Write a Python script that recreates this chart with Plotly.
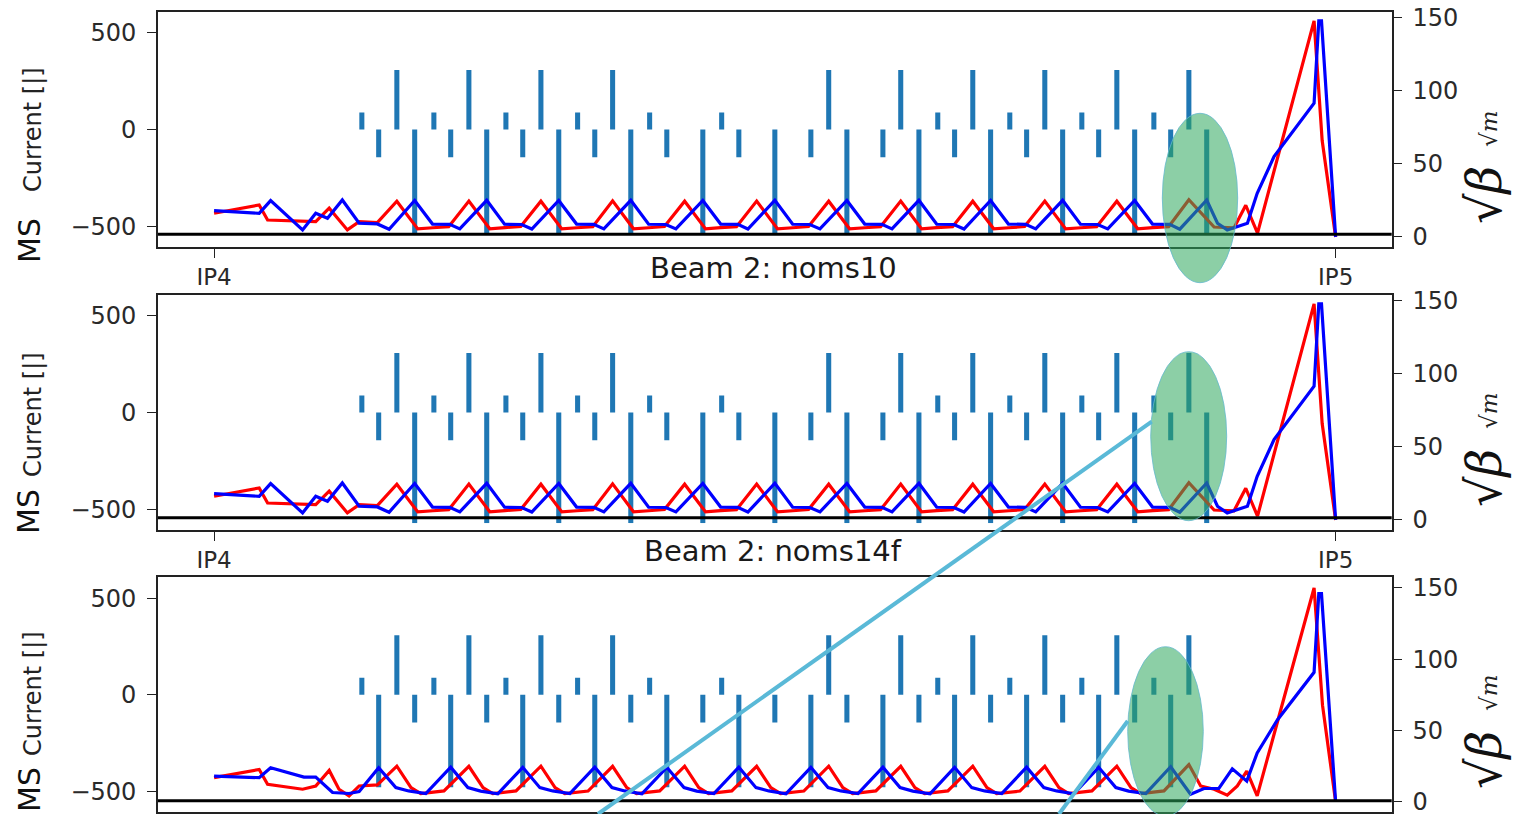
import plotly.graph_objects as go

W, H = 1513, 814

# ---------------- data (s in metres from IP4) ----------------
ip_s = [0, 3332]
ip_labels = ["IP4", "IP5"]

# MS (sextupole) bar positions
ms_small_up_s = [439, 653, 867, 1080, 1294, 1508, 2150, 2364, 2578, 2792]
ms_small_up_i = [88, 88, 88, 88, 88, 88, 88, 88, 88, 88]
ms_tall_up_s = [543, 757, 971, 1184, 1826, 2040, 2254, 2468, 2682, 2896]
ms_tall_up_i = [308, 308, 308, 308, 308, 308, 308, 308, 308, 308]
ms_a_s = [489, 703, 917, 1131, 1345, 1559, 1773, 1987, 2200, 2414, 2628, 2842]
ms_b_s = [596, 810, 1024, 1238, 1452, 1666, 1880, 2094, 2307, 2521, 2735, 2949]

# panel 1 (top) and panel 2 (noms10): small negative at a, long negative at b
p1_a_i = [-143, -143, -143, -143, -143, -143, -143, -143, -143, -143, -143, -143]
p1_b_i = [-535, -535, -535, -535, -535, -535, -535, -535, -535, -535, -535, -535]
p2_a_i = [-143, -143, -143, -143, -143, -143, -143, -143, -143, -143, -143, -143]
p2_b_i = [-572, -572, -572, -572, -572, -572, -572, -572, -572, -572, -572, -572]
# panel 3 (noms14f): long negative at a, small negative at b
p3_a_i = [-478, -478, -478, -478, -478, -478, -478, -478, -478, -478, -478, -478]
p3_b_s = [596, 810, 1024, 1238, 1452, 1666, 1880, 2094, 2307, 2521, 2735]
p3_b_i = [-143, -143, -143, -143, -143, -143, -143, -143, -143, -143, -143]

# sqrt(beta) lines, panels 1 & 2
red12_s = [0, 134, 159, 302, 342, 396, 431, 485,
           543, 605, 650, 697, 757, 819, 864, 911, 971, 1033, 1078, 1125,
           1184, 1246, 1291, 1338, 1398, 1460, 1505, 1552, 1612, 1674, 1719, 1766,
           1826, 1888, 1933, 1980, 2040, 2102, 2147, 2194, 2254, 2316, 2361, 2408,
           2468, 2530, 2575, 2622, 2682, 2744, 2789, 2836,
           2896, 2971, 3030, 3065, 3100, 3268, 3292, 3332]
red12_b = [16.2, 21.9, 11.6, 10.5, 19.7, 4.8, 10.5, 9.8,
           24.5, 5.5, 6.3, 7.0, 24.6, 5.6, 6.4, 7.1, 24.5, 5.5, 6.3, 7.0,
           24.7, 5.6, 6.3, 7.1, 24.5, 5.5, 6.4, 7.0, 24.6, 5.5, 6.3, 7.1,
           24.5, 5.6, 6.3, 7.0, 24.6, 5.5, 6.4, 7.0, 24.5, 5.6, 6.3, 7.1,
           24.6, 5.5, 6.3, 7.0, 24.5, 5.6, 6.4, 7.0,
           25.5, 6.8, 6.2, 21.7, 2.6, 148.0, 66.0, 0.0]
blue12_s = [0, 134, 168, 263, 302, 337, 381, 431, 485, 520,
            596, 649, 700, 730, 810, 863, 914, 944, 1024, 1077, 1128, 1158,
            1238, 1291, 1342, 1372, 1452, 1505, 1556, 1586, 1666, 1719, 1770, 1800,
            1880, 1933, 1984, 2014, 2094, 2147, 2198, 2228, 2307, 2360, 2411, 2441,
            2521, 2574, 2625, 2655, 2735, 2788, 2839, 2869,
            2949, 2981, 3010, 3070, 3099, 3149, 3268, 3282, 3290, 3332]
blue12_b = [18.0, 16.2, 24.9, 4.8, 16.2, 12.8, 25.3, 9.4, 8.9, 5.3,
            25.0, 8.8, 8.6, 5.5, 25.1, 8.7, 8.5, 5.4, 25.0, 8.8, 8.6, 5.5,
            25.1, 8.7, 8.5, 5.5, 25.0, 8.8, 8.6, 5.4, 25.1, 8.7, 8.5, 5.5,
            25.0, 8.8, 8.6, 5.5, 25.1, 8.7, 8.5, 5.4, 25.0, 8.8, 8.6, 5.5,
            25.1, 8.7, 8.5, 5.5, 25.0, 8.8, 8.6, 5.3,
            25.3, 9.4, 4.8, 9.4, 29.9, 55.0, 91.6, 148.0, 148.0, 0.0]

# sqrt(beta) lines, panel 3
red3_s = [0, 134, 159, 263, 302, 342, 371, 401, 431, 485,
          543, 585, 614, 683, 757, 799, 828, 897, 971, 1013, 1042, 1111,
          1184, 1226, 1255, 1324, 1398, 1440, 1469, 1538, 1612, 1654, 1683, 1752,
          1826, 1868, 1897, 1966, 2040, 2082, 2111, 2180, 2254, 2296, 2325, 2394,
          2468, 2510, 2539, 2608, 2682, 2724, 2753, 2822,
          2896, 2931, 2971, 3010, 3040, 3068, 3099, 3268, 3293, 3332]
red3_b = [16.8, 22.6, 12.2, 8.7, 11.0, 21.9, 8.7, 4.0, 11.0, 11.7,
          24.9, 9.9, 5.6, 7.5, 24.8, 9.8, 5.7, 7.5, 24.9, 9.9, 5.6, 7.4,
          24.8, 9.9, 5.7, 7.5, 24.9, 9.8, 5.6, 7.5, 24.8, 9.9, 5.6, 7.4,
          24.9, 9.9, 5.7, 7.5, 24.8, 9.8, 5.6, 7.5, 24.9, 9.9, 5.6, 7.4,
          24.8, 9.9, 5.7, 7.5, 24.9, 9.8, 5.6, 7.5,
          26.0, 11.0, 8.7, 4.5, 11.0, 21.4, 4.0, 150.0, 67.7, 0.0]
blue3_s = [0, 134, 168, 267, 302, 352, 401, 431,
           489, 540, 578, 629, 703, 754, 792, 843, 917, 968, 1006, 1057,
           1131, 1182, 1220, 1271, 1345, 1396, 1434, 1485, 1559, 1610, 1648, 1699,
           1773, 1824, 1862, 1913, 1987, 2038, 2076, 2127, 2200, 2251, 2289, 2340,
           2414, 2465, 2503, 2554, 2628, 2679, 2717, 2768,
           2842, 2901, 2941, 2985, 3025, 3068, 3099, 3159, 3268, 3282, 3290, 3332]
blue3_b = [17.9, 16.8, 23.8, 17.2, 17.2, 6.4, 5.7, 7.1,
           23.8, 9.9, 7.5, 5.6, 24.2, 9.9, 7.4, 5.5, 24.1, 9.8, 7.5, 5.6,
           24.2, 9.9, 7.5, 5.5, 24.1, 9.9, 7.4, 5.6, 24.2, 9.8, 7.5, 5.5,
           24.1, 9.9, 7.5, 5.6, 24.2, 9.9, 7.4, 5.5, 24.1, 9.8, 7.5, 5.6,
           24.2, 9.9, 7.5, 5.5, 24.1, 9.9, 7.4, 5.6,
           24.5, 5.2, 9.2, 9.2, 23.0, 14.4, 34.2, 57.3, 90.8, 146.0, 146.0, 0.0]

titles = ["Beam 2: noms10", "Beam 2: noms14f"]

# ---------------- layout helpers ----------------
def px(x):
    return x / W

def py(y):
    return 1 - y / H

panel_tops = [12, 295, 577.3]
panel_h = 235
x_left, x_right = 158, 1391.7
ms_label_y = [240, 511, 789]
cur_label_y = [130, 415, 694]
sqb_label_y = [195, 478, 760]
sqm_label_y = [129, 411, 693]

BAR_C = "#1f77b4"
FONT = "DejaVu Sans"
TXT = "#1a1a1a"

fig = go.Figure()

panels = [
    dict(bx=ms_small_up_s + ms_tall_up_s + ms_a_s + ms_b_s,
         by=ms_small_up_i + ms_tall_up_i + p1_a_i + p1_b_i,
         rs=red12_s, rb=red12_b, bs=blue12_s, bb=blue12_b, r2=[-6.9, 154.1], hl=1.8),
    dict(bx=ms_small_up_s + ms_tall_up_s + ms_a_s + ms_b_s,
         by=ms_small_up_i + ms_tall_up_i + p2_a_i + p2_b_i,
         rs=red12_s, rb=red12_b, bs=blue12_s, bb=blue12_b, r2=[-6.9, 154.1], hl=1.5),
    dict(bx=ms_small_up_s + ms_tall_up_s + ms_a_s + p3_b_s,
         by=ms_small_up_i + ms_tall_up_i + p3_a_i + p3_b_i,
         rs=red3_s, rb=red3_b, bs=blue3_s, bb=blue3_b, r2=[-7.5, 157.5], hl=0.6),
]

layout = dict(
    template="none",
    width=W, height=H, autosize=False,
    margin=dict(l=0, r=0, t=0, b=0, pad=0),
    paper_bgcolor="white", plot_bgcolor="white",
    showlegend=False, barmode="overlay",
    font=dict(family=FONT, color=TXT),
)

shapes = []
annotations = []
axis_common = dict(showgrid=False, zeroline=False, showline=True, linecolor="#222",
                   linewidth=1.6, ticks="outside", ticklen=9, tickwidth=1.4, automargin=False,
                   tickcolor="#222", tickfont=dict(family=FONT, size=24, color="#2a2a2a"))


def note(text, x, y, size, color="#1a1a1a", family=FONT, angle=0):
    return dict(text=text, x=px(x), y=py(y), xref="paper", yref="paper", showarrow=False,
                xanchor="center", yanchor="middle", textangle=angle,
                font=dict(size=size, color=color, family=family))


for i, p in enumerate(panels):
    top = panel_tops[i]
    bot = top + panel_h
    xa = "x" if i == 0 else f"x{i+1}"
    yl = 2 * i + 1
    yr = 2 * i + 2
    yl_name = "y" if yl == 1 else f"y{yl}"
    yr_name = f"y{yr}"

    fig.add_trace(go.Bar(x=p["bx"], y=p["by"], width=15, marker=dict(color=BAR_C, line=dict(width=0)),
                         xaxis=xa, yaxis=yl_name))
    fig.add_trace(go.Scatter(x=p["rs"], y=p["rb"], mode="lines", line=dict(color="#ff0000", width=3.2),
                             xaxis=xa, yaxis=yr_name))
    fig.add_trace(go.Scatter(x=p["bs"], y=p["bb"], mode="lines", line=dict(color="#0000ff", width=3.2),
                             xaxis=xa, yaxis=yr_name))

    xkey = "xaxis" if i == 0 else f"xaxis{i+1}"
    layout[xkey] = dict(axis_common, domain=[px(x_left), px(x_right)], range=[-166.6, 3498.6],
                        anchor=yl_name, mirror=True, tickvals=ip_s, ticktext=ip_labels,
                        showticklabels=(i < 2),
                        tickfont=dict(family=FONT, size=23, color="#2a2a2a"))
    layout[f"yaxis{yl}" if yl > 1 else "yaxis"] = dict(
        axis_common, domain=[py(bot), py(top)], range=[-608, 608], anchor=xa, side="left",
        mirror=True, tickvals=[-500, 0, 500], ticktext=["\u2212500", "0", "500"],
        ticklabelstandoff=6, ticklabeloverflow="allow")
    layout[f"yaxis{yr}"] = dict(
        axis_common, domain=[py(bot), py(top)], range=p["r2"], anchor=xa, side="right",
        overlaying=yl_name, tickvals=[0, 50, 100, 150], showline=False, ticklabelstandoff=6,
        ticklabeloverflow="allow")

    shapes.append(dict(type="line", xref=f"{xa} domain", yref=yr_name, x0=0, x1=1,
                       y0=p["hl"], y1=p["hl"], line=dict(color="black", width=3), layer="above"))

    annotations += [
        note("MS", 29, ms_label_y[i], 30, "#111", angle=-90),
        note("Current [|]", 33, cur_label_y[i], 24, "#222", angle=-90),
        note("\u221a<i>\u03b2</i>", 1484, sqb_label_y[i], 48, "#111", "DejaVu Serif", -90),
        note("\u221a<i>m</i>", 1489, sqm_label_y[i], 23, "#222", "DejaVu Serif", -90),
    ]

annotations += [
    note(titles[0], 773, 268, 29),
    note(titles[1], 773, 551, 29),
]

# green highlight ellipses
for (x0, x1, y0, y1) in [(1162.3, 1237.7, 113.3, 282.7), (1150.7, 1226.7, 351.7, 520.7),
                         (1127.7, 1203.3, 646.7, 816.0)]:
    shapes.append(dict(type="circle", xref="paper", yref="paper", x0=px(x0), x1=px(x1),
                       y0=py(y1), y1=py(y0), fillcolor="rgba(46,168,92,0.55)",
                       line=dict(color="rgba(100,185,205,0.8)", width=1), layer="above"))

# cyan pointer lines
for (xa0, ya0, xa1, ya1) in [(1151.7, 421.7, 598, 814), (1127.7, 721, 1059, 814)]:
    shapes.append(dict(type="line", xref="paper", yref="paper", x0=px(xa0), y0=py(ya0),
                       x1=px(xa1), y1=py(ya1), line=dict(color="#5ab9d7", width=4), layer="above"))

layout["shapes"] = shapes
layout["annotations"] = annotations
fig.update_layout(**layout)

fig.write_html("out.html")
